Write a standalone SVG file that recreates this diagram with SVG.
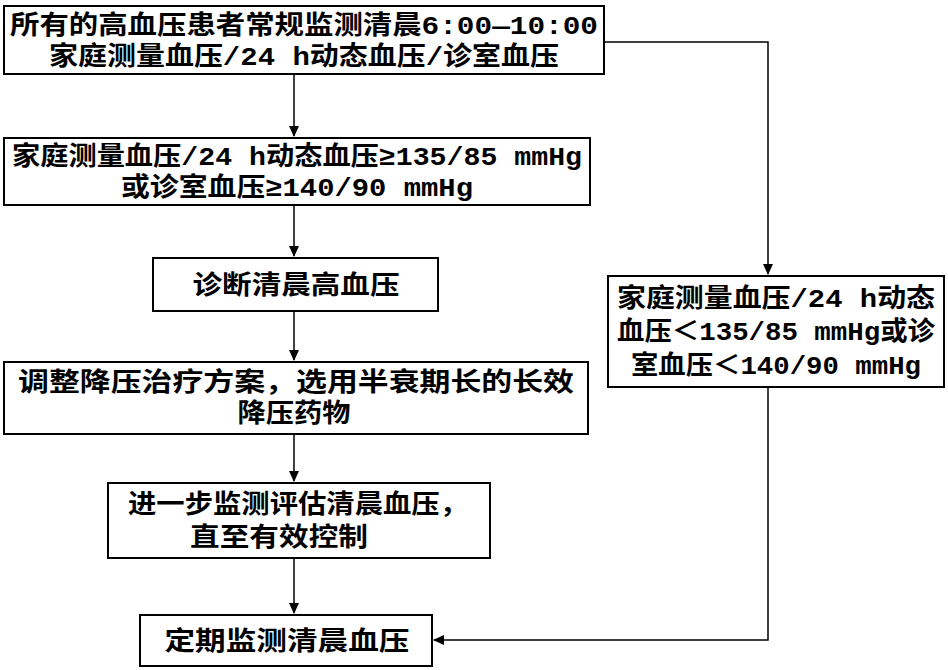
<svg xmlns="http://www.w3.org/2000/svg" width="948" height="670" viewBox="0 0 948 670">
<defs>
<marker id="a" markerWidth="12" markerHeight="12" refX="10" refY="6" orient="auto" markerUnits="userSpaceOnUse"><path d="M0,1 L11,6 L0,11 Z" fill="#000"/></marker>
<style>
rect{fill:#fff;stroke:#000;stroke-width:2}
text{font-family:"Liberation Mono","Noto Sans CJK SC",monospace;font-size:26px;font-weight:bold;fill:#000;text-anchor:middle}
.c path{fill:none;stroke:#000;stroke-width:1.5;marker-end:url(#a)}
</style>
</defs>
<rect x="0" y="0" width="948" height="670" style="fill:#fff;stroke:none"/>
<g class="c">
<path d="M294,74 V136"/>
<path d="M294,205 V256"/>
<path d="M294,311 V360"/>
<path d="M294,434 V481"/>
<path d="M294,558 V613"/>
<path d="M604,42 H768 V274"/>
<path d="M768,387 V640 H434"/>
</g>
<g id="n1"><rect x="4" y="6" width="600" height="68"/><text x="304" y="34" textLength="588" lengthAdjust="spacingAndGlyphs">所有的高血压患者常规监测清晨6:00—10:00</text><text x="304" y="65" textLength="510" lengthAdjust="spacingAndGlyphs">家庭测量血压/24 h动态血压/诊室血压</text></g>
<g id="n2"><rect x="4" y="138" width="586" height="67"/><text x="297" y="165" textLength="570" lengthAdjust="spacingAndGlyphs">家庭测量血压/24 h动态血压≥135/85 mmHg</text><text x="297" y="196" textLength="352" lengthAdjust="spacingAndGlyphs">或诊室血压≥140/90 mmHg</text></g>
<g id="n3"><rect x="153" y="258" width="285" height="53"/><text x="296" y="294" textLength="207" lengthAdjust="spacingAndGlyphs">诊断清晨高血压</text></g>
<g id="n4"><rect x="4" y="362" width="584" height="72"/><text x="296" y="391" textLength="556" lengthAdjust="spacingAndGlyphs">调整降压治疗方案，选用半衰期长的长效</text><text x="294" y="422" textLength="113" lengthAdjust="spacingAndGlyphs">降压药物</text></g>
<g id="n5"><rect x="108" y="483" width="382" height="75"/><text x="298" y="513" textLength="340" lengthAdjust="spacingAndGlyphs">进一步监测评估清晨血压，</text><text x="279" y="546" textLength="178" lengthAdjust="spacingAndGlyphs">直至有效控制</text></g>
<g id="n6"><rect x="140" y="615" width="292" height="51"/><text x="287" y="650" textLength="245" lengthAdjust="spacingAndGlyphs">定期监测清晨血压</text></g>
<g id="n7"><rect x="608" y="276" width="336" height="111"/><text x="776" y="307" textLength="318" lengthAdjust="spacingAndGlyphs">家庭测量血压/24 h动态</text><text x="776" y="340" textLength="318" lengthAdjust="spacingAndGlyphs">血压＜135/85 mmHg或诊</text><text x="776" y="374" textLength="290" lengthAdjust="spacingAndGlyphs">室血压＜140/90 mmHg</text></g>
</svg>
